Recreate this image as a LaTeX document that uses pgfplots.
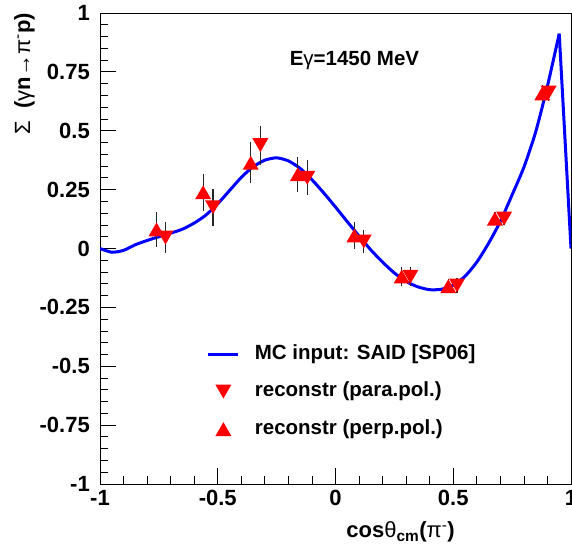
\documentclass[border=0pt]{standalone}
\usepackage{fontspec}
\setmainfont{Liberation Sans}
\usepackage{pgfplots}
\usepackage{pgfplotstable}
\pgfplotsset{compat=1.18}

\pgfdeclareplotmark{tup}{%
  \pgfpathmoveto{\pgfqpoint{-\pgfplotmarksize}{-0.866\pgfplotmarksize}}%
  \pgfpathlineto{\pgfqpoint{\pgfplotmarksize}{-0.866\pgfplotmarksize}}%
  \pgfpathlineto{\pgfqpoint{0pt}{0.866\pgfplotmarksize}}%
  \pgfpathclose\pgfusepathqfill}
\pgfdeclareplotmark{tdown}{%
  \pgfpathmoveto{\pgfqpoint{-\pgfplotmarksize}{0.866\pgfplotmarksize}}%
  \pgfpathlineto{\pgfqpoint{\pgfplotmarksize}{0.866\pgfplotmarksize}}%
  \pgfpathlineto{\pgfqpoint{0pt}{-0.866\pgfplotmarksize}}%
  \pgfpathclose\pgfusepathqfill}
\pgfplotsset{
  lineleg/.style={legend image code/.code={\draw[##1] (0pt,0pt) -- (30pt,0pt);}},
  markleg/.style={legend image code/.code={\draw[##1] plot coordinates {(15pt,0pt)};}},
}

\pgfplotstableread{
x y
-1.00 0.000
-0.95 -0.016
-0.90 -0.008
-0.85 0.016
-0.80 0.034
-0.75 0.050
-0.70 0.065
-0.65 0.082
-0.60 0.108
-0.55 0.142
-0.50 0.190
-0.45 0.246
-0.40 0.302
-0.35 0.347
-0.30 0.375
-0.25 0.385
-0.20 0.372
-0.15 0.340
-0.10 0.292
-0.05 0.236
0.00 0.176
0.05 0.114
0.10 0.053
0.15 -0.006
0.20 -0.058
0.25 -0.104
0.30 -0.140
0.35 -0.163
0.40 -0.175
0.45 -0.173
0.50 -0.156
0.55 -0.118
0.60 -0.058
0.65 0.022
0.70 0.115
0.75 0.228
0.80 0.345
0.85 0.495
0.90 0.690
0.95 0.912
}\curveA

\pgfplotstableread{
x y
0.95 0.912
1.00 0.000
}\curveB

\pgfplotstableread{
x y e
-0.722 0.046 0.066
-0.520 0.175 0.078
-0.319 0.439 0.083
-0.120 0.300 0.074
0.120 0.030 0.050
0.318 -0.120 0.041
0.516 -0.157 0.030
0.716 0.127 0.028
0.905 0.662 0.034
}\paradata

\pgfplotstableread{
x y e
-0.760 0.081 0.074
-0.562 0.239 0.078
-0.360 0.364 0.087
-0.160 0.315 0.073
0.080 0.055 0.057
0.281 -0.119 0.042
0.479 -0.160 0.030
0.677 0.127 0.028
0.878 0.658 0.035
}\perpdata

\begin{document}
\begin{tikzpicture}
\begin{axis}[
  scale only axis,
  width=471pt, height=471pt,
  xmin=-1, xmax=1, ymin=-1, ymax=1,
  xtick={-1,-0.5,0,0.5,1},
  xticklabels={-1,-0.5,0,0.5,1},
  minor x tick num=4,
  ytick={-1,-0.75,-0.5,-0.25,0,0.25,0.5,0.75,1},
  yticklabels={-1,-0.75,-0.5,-0.25,0,0.25,0.5,0.75,1},
  minor y tick num=4,
  tick align=inside,
  xtick pos=lower, ytick pos=left,
  major tick length=16pt, minor tick length=8pt,
  tick style={black, line width=0.8pt},
  axis line style={black, line width=0.8pt},
  xticklabel style={font=\bfseries\fontsize{22}{22}\selectfont, inner sep=0pt, anchor=north, yshift=-6pt},
  yticklabel style={font=\bfseries\fontsize{22}{22}\selectfont, inner sep=0pt, anchor=east, xshift=-10pt},
  xlabel={\bfseries cos\mdseries θ\bfseries\textsubscript{cm}(\mdseries π\textsuperscript{-}\bfseries)},
  xlabel style={font=\fontsize{22}{22}\selectfont, inner sep=0pt, at={(axis description cs:0.7537,0)}, anchor=base east, yshift=-54pt},
  ylabel={\mdseries Σ\hspace{12pt}\bfseries(\mdseries γ\bfseries n\mdseries→π\textsuperscript{-}\bfseries p)},
  ylabel style={font=\fontsize{22}{22}\selectfont, inner sep=0pt, at={(axis description cs:-0.1486,1)}, anchor=base east},
  clip=true,
  legend cell align=left,
  legend style={draw=none, fill=none, at={(axis cs:-0.547,-0.405)}, anchor=north west,
    inner sep=0pt, column sep=15pt, row sep=17.5pt,
    font=\bfseries\fontsize{20.5}{20.5}\selectfont,
    nodes={inner sep=0pt, text height=15pt, text depth=5pt}},
]
\addplot[blue, line width=3pt, smooth, tension=0.4, lineleg]
  table[x=x,y=y] {\curveA};
\addlegendentry{MC input: SAID [SP06]}
\addplot[blue, line width=3pt, forget plot] table[x=x,y=y] {\curveB};
\addplot[only marks, red, mark=tdown, mark size=8pt, markleg,
  error bars/.cd, y dir=both, y explicit, error mark=none,
  error bar style={black!85, line width=1.3pt}]
  table[x=x,y=y,y error=e] {\paradata};
\addlegendentry{reconstr (para.pol.)}
\addplot[only marks, red, mark=tup, mark size=8pt, markleg,
  error bars/.cd, y dir=both, y explicit, error mark=none,
  error bar style={black!85, line width=1.3pt}]
  table[x=x,y=y,y error=e] {\perpdata};
\addlegendentry{reconstr (perp.pol.)}
\node[font=\bfseries\fontsize{20.5}{20.5}\selectfont, anchor=base west, inner sep=0pt]
  at (axis cs:-0.195,0.777) {E\mdseries γ\bfseries =1450 MeV};
\end{axis}
\pgfresetboundingbox
\path (current axis.south west) +(-100pt,-69pt) (current axis.north east) +(1pt,13pt);
\end{tikzpicture}
\end{document}
